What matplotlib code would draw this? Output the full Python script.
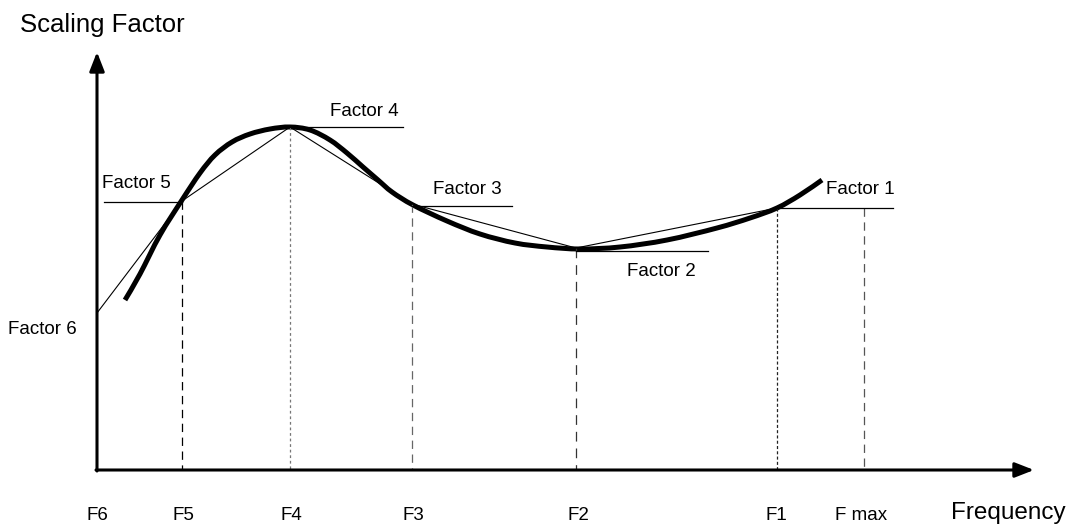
import matplotlib
matplotlib.use("Agg")
import matplotlib.pyplot as plt
from matplotlib.path import Path
from matplotlib.patches import PathPatch

plt.rcParams['font.family'] = ['Liberation Sans', 'DejaVu Sans']
plt.rcParams['lines.scale_dashes'] = False

# ---- data (diagram units: pixel-like coordinates, y grows downward) ----
axis_origin = (97, 470)
y_axis_top = 52
x_axis_right = 1034

freq_labels = ["F6", "F5", "F4", "F3", "F2", "F1", "F max"]
freq_label_x = [97, 183, 291, 413, 578, 776, 861]

# breakpoints (frequency position, factor value)
bp_names = ["Factor 6", "Factor 5", "Factor 4", "Factor 3", "Factor 2", "Factor 1"]
bp_x = [97, 182, 290, 412, 576, 777]
bp_y = [313, 201, 127, 204, 248, 208]

# horizontal factor marker lines (start x, end x, y)
mark_x0 = [104, 290, 412, 576, 777]
mark_x1 = [182, 403, 512, 708, 893]
mark_y = [202, 127, 206, 251, 208]

# vertical guide lines (x, top y)
guide_x = [182, 290, 412, 576, 777, 864]
guide_top = [201, 127, 204, 248, 208, 208]
guide_style = [(6, 4), (2, 2), (6, 4), (7, 5), (2.2, 1.6), (6, 4)]
guide_color = ["#000000", "#777777", "#666666", "#333333", "#222222", "#555555"]

# true scaling curve
curve_x = [125, 140, 160, 182, 200, 215, 232, 250, 270, 290, 310, 330, 347,
           363, 378, 392, 413, 447, 480, 515, 547, 580, 620, 667, 717, 750, 777,
           800, 822]
curve_y = [300, 274, 235, 200, 173, 155, 142, 134, 129, 127, 130, 140, 153,
           167, 180, 192, 205, 221, 234, 243, 247, 249, 247, 240, 228, 218, 208,
           195, 180]

# labels (text, left x, center y)
label_text = ["Factor 5", "Factor 4", "Factor 3", "Factor 2", "Factor 1", "Factor 6"]
label_x = [102, 330, 433, 627, 826, 8]
label_y = [184, 111, 190, 271, 190, 329]


def smooth_path(xs, ys):
    """Catmull-Rom through the given points, expressed as cubic Bezier segments."""
    pts = list(zip(xs, ys))
    verts = [pts[0]]
    codes = [Path.MOVETO]
    n = len(pts)
    for i in range(n - 1):
        p0 = pts[i - 1] if i > 0 else pts[i]
        p1 = pts[i]
        p2 = pts[i + 1]
        p3 = pts[i + 2] if i + 2 < n else pts[i + 1]
        c1 = (p1[0] + (p2[0] - p0[0]) / 6.0, p1[1] + (p2[1] - p0[1]) / 6.0)
        c2 = (p2[0] - (p3[0] - p1[0]) / 6.0, p2[1] - (p3[1] - p1[1]) / 6.0)
        verts += [c1, c2, p2]
        codes += [Path.CURVE4] * 3
    return Path(verts, codes)


fig = plt.figure(figsize=(10.71, 5.27), dpi=100)
ax = fig.add_axes([0, 0, 1, 1])
ax.set_xlim(0, 1071)
ax.set_ylim(527, 0)
ax.axis('off')

# guides
for gx, gt, st, col in zip(guide_x, guide_top, guide_style, guide_color):
    ax.plot([gx, gx], [gt, axis_origin[1]], color=col, lw=0.9, dashes=st)

# horizontal factor lines
for x0, x1, yy in zip(mark_x0, mark_x1, mark_y):
    ax.plot([x0, x1], [yy, yy], color='k', lw=0.9)

# piecewise linear approximation
ax.plot(bp_x, bp_y, color='k', lw=0.8)

# true curve
ax.add_patch(PathPatch(smooth_path(curve_x, curve_y), facecolor='none',
                       edgecolor='k', lw=3.6, joinstyle='round', capstyle='butt'))

# axes with arrows
arrow = dict(arrowstyle='-|>,head_length=1.15,head_width=0.45', lw=2.2,
             color='k', shrinkA=0, shrinkB=0, mutation_scale=10)
ax.annotate('', xy=(axis_origin[0], y_axis_top), xytext=(axis_origin[0], axis_origin[1] + 1),
            arrowprops=arrow)
ax.annotate('', xy=(x_axis_right, axis_origin[1]), xytext=(axis_origin[0] - 1, axis_origin[1]),
            arrowprops=arrow)

# texts
ax.text(20, 25, "Scaling Factor", fontsize=18.5, ha='left', va='center')
ax.text(951, 513, "Frequency", fontsize=17.5, ha='left', va='center')
for t, lx, ly in zip(label_text, label_x, label_y):
    ax.text(lx, ly, t, fontsize=13.5, ha='left', va='center')
for t, lx in zip(freq_labels, freq_label_x):
    ax.text(lx, 515, t, fontsize=13.5, ha='center', va='center')

fig.savefig("out.png", dpi=100)
